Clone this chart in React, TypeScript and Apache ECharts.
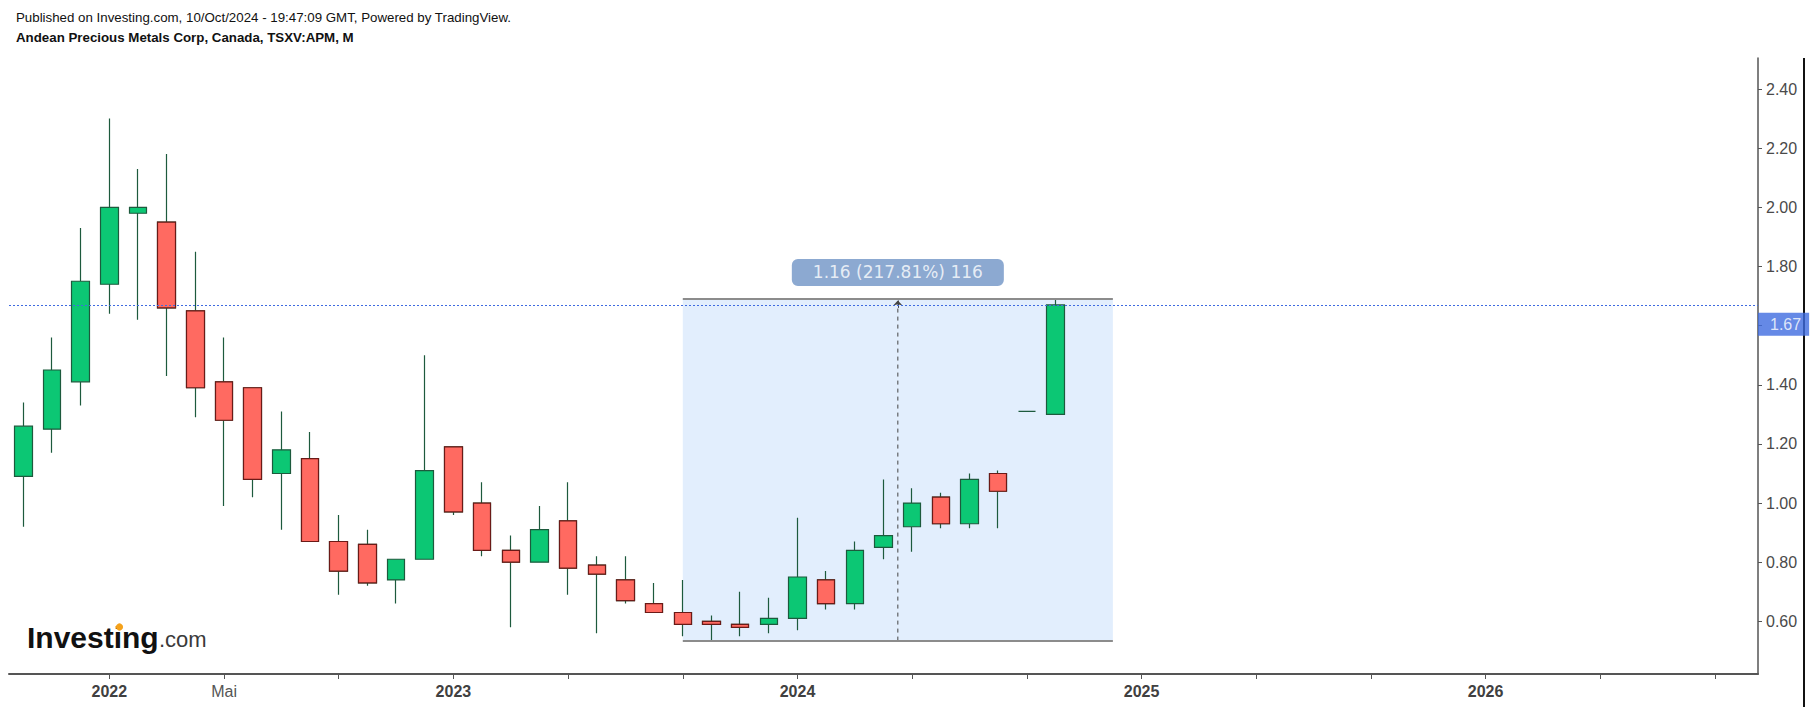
import React, { useEffect, useRef } from "react";
import * as echarts from "echarts";

// ---- data ----
const months: string[] = [];
for (let y = 2021; y <= 2026; y++) {
  for (let m = 1; m <= 12; m++) {
    if ((y === 2021 && m < 10) || (y === 2026 && m > 10)) continue;
    months.push(`${y}-${String(m).padStart(2, "0")}`);
  }
}

const openP = [1.09, 1.25, 1.41, 1.74, 1.98, 1.95, 1.65, 1.41, 1.39, 1.10, 1.15, 0.87, 0.86, 0.74, 0.81, 1.19, 1.00, 0.84, 0.80, 0.94, 0.79, 0.74, 0.66, 0.63, 0.60, 0.59, 0.59, 0.61, 0.74, 0.66, 0.85, 0.92, 1.02, 0.93, 1.10, 1.31, 1.30];
const closeP = [1.26, 1.45, 1.75, 2.00, 2.00, 1.66, 1.39, 1.28, 1.08, 1.18, 0.87, 0.77, 0.73, 0.81, 1.11, 0.97, 0.84, 0.80, 0.91, 0.78, 0.76, 0.67, 0.63, 0.59, 0.59, 0.58, 0.61, 0.75, 0.66, 0.84, 0.89, 1.00, 0.93, 1.08, 1.04, 1.31, 1.67];
const lowP = [0.92, 1.17, 1.33, 1.64, 1.62, 1.43, 1.29, 0.99, 1.02, 0.91, 0.87, 0.69, 0.72, 0.66, 0.81, 0.96, 0.82, 0.58, 0.80, 0.69, 0.56, 0.66, 0.63, 0.55, 0.535, 0.55, 0.56, 0.57, 0.64, 0.64, 0.81, 0.835, 0.915, 0.915, 0.915, 1.31, 1.30];
const highP = [1.34, 1.56, 1.93, 2.30, 2.13, 2.18, 1.85, 1.56, 1.39, 1.31, 1.24, 0.96, 0.91, 0.81, 1.50, 1.19, 1.07, 0.89, 0.99, 1.07, 0.82, 0.82, 0.73, 0.74, 0.62, 0.70, 0.68, 0.95, 0.77, 0.87, 1.08, 1.05, 1.035, 1.10, 1.11, 1.31, 1.69];

const yTickValues = [0.6, 0.8, 1.0, 1.2, 1.4, 1.6, 1.8, 2.0, 2.2, 2.4];
const yLabelValues = [0.6, 0.8, 1.0, 1.2, 1.4, 1.8, 2.0, 2.2, 2.4];
const lastPrice = 1.67;
const lastPriceText = "1.67";

const measureStart = "2023-09";
const measureEnd = "2024-12";
const measureHigh = 1.69;
const measureLow = 0.535;
const measureText = "1.16 (217.81%) 116";

const headerLine1 = "Published on Investing.com, 10/Oct/2024 - 19:47:09 GMT, Powered by TradingView.";
const headerLine2 = "Andean Precious Metals Corp, Canada, TSXV:APM, M";

const FONT = '"Liberation Sans", Arial, sans-serif';

export default function App() {
  const ref = useRef<HTMLDivElement>(null);

  useEffect(() => {
    if (!ref.current) return;
    const chart = echarts.init(ref.current, undefined, { renderer: "svg" });

    const allCandles = months.map((m, i) =>
      i < openP.length ? [openP[i], closeP[i], lowP[i], highP[i]] : "-"
    );
    const downBodies = months.map((m, i) =>
      i < openP.length && closeP[i] < openP[i]
        ? [openP[i], closeP[i], closeP[i], openP[i]]
        : "-"
    );

    const sIdx = months.indexOf(measureStart);
    const eIdx = months.indexOf(measureEnd);
    const mid = (sIdx + eIdx) / 2;
    const lastIdx = months.length - 1;

    const tickFn = (i: number) => months[i].endsWith("-01") || months[i].endsWith("-05") || months[i].endsWith("-09");

    const option: any = {
      animation: false,
      backgroundColor: "#ffffff",
      grid: { left: 9, right: 55, top: 58, bottom: 33, containLabel: false },
      xAxis: [
        {
          type: "category",
          data: months,
          boundaryGap: true,
          axisLine: { show: true, onZero: false, lineStyle: { color: "#555555", width: 2 } },
          axisTick: {
            show: true,
            alignWithLabel: true,
            interval: (i: number) => tickFn(i),
            length: 5,
            lineStyle: { color: "#555555", width: 1 },
          },
          axisLabel: {
            interval: (i: number) => tickFn(i),
            margin: 9,
            fontFamily: FONT,
            fontSize: 16,
            color: "#555555",
            formatter: (v: string) => {
              if (v.endsWith("-01")) return `{y|${v.slice(0, 4)}}`;
              if (v === "2022-05") return "{m|Mai}";
              return "";
            },
            rich: {
              y: { fontFamily: FONT, fontSize: 16, fontWeight: "bold", color: "#404040" },
              m: { fontFamily: FONT, fontSize: 16, color: "#555555" },
            },
          },
          splitLine: { show: false },
        },
        {
          type: "value",
          min: -0.5,
          max: lastIdx + 0.5,
          show: false,
          axisLine: { show: false, onZero: false },
          splitLine: { show: false },
        },
      ],
      yAxis: {
        type: "value",
        position: "right",
        min: 0.422,
        max: 2.505,
        scale: true,
        axisLine: { show: true, onZero: false, lineStyle: { color: "#555555", width: 1.5 } },
        axisTick: {
          show: true,
          length: 4,
          customValues: yTickValues,
          lineStyle: { color: "#555555" },
        },
        axisLabel: {
          customValues: yLabelValues,
          formatter: (v: number) => v.toFixed(2),
          color: "#4a4a4a",
          fontFamily: FONT,
          fontSize: 16,
          margin: 8,
        },
        splitLine: { show: false },
      },
      graphic: [
        {
          type: "text",
          x: 16,
          y: 17,
          style: { text: headerLine1, font: `13.3px ${FONT}`, fill: "#111111", textVerticalAlign: "middle" },
        },
        {
          type: "text",
          x: 16,
          y: 37,
          style: { text: headerLine2, font: `bold 13.3px ${FONT}`, fill: "#111111", textVerticalAlign: "middle" },
        },
        {
          type: "text",
          x: 27,
          y: 637,
          z: 50,
          style: { text: "Investing", font: `bold 30px ${FONT}`, fill: "#111111", textVerticalAlign: "middle" },
        },
        {
          type: "text",
          x: 159,
          y: 639,
          z: 50,
          style: { text: ".com", font: `22px ${FONT}`, fill: "#3a3a3a", textVerticalAlign: "middle" },
        },
        {
          type: "circle",
          z: 51,
          shape: { cx: 119.5, cy: 627, r: 3.6 },
          style: { fill: "#f5a21b" },
        },
        {
          type: "line",
          shape: { x1: 1804, y1: 58, x2: 1804, y2: 707 },
          style: { stroke: "#111111", lineWidth: 2 },
        },
      ],
      series: [
        {
          type: "line",
          xAxisIndex: 1,
          yAxisIndex: 0,
          z: 2,
          silent: true,
          symbol: "none",
          data: [
            [mid, measureLow],
            [mid, measureHigh - 0.01],
          ],
          lineStyle: { color: "#444444", width: 1, type: [4, 4] },
          markArea: {
            silent: true,
            itemStyle: { color: "#e2eefd" },
            data: [[{ coord: [sIdx, measureHigh] }, { coord: [eIdx, measureLow] }]],
          },
          markLine: {
            silent: true,
            symbol: "none",
            label: { show: false },
            lineStyle: { color: "#8c8c8c", width: 2, type: "solid" },
            data: [
              [{ coord: [sIdx, measureHigh] }, { coord: [eIdx, measureHigh] }],
              [{ coord: [sIdx, measureLow] }, { coord: [eIdx, measureLow] }],
              [
                { coord: [mid, measureHigh - 0.03], symbol: "none", lineStyle: { color: "#444444", width: 1 } },
                { coord: [mid, measureHigh - 0.005], symbol: "arrow", symbolSize: [7, 5], lineStyle: { color: "#444444", width: 1 } },
              ],
            ],
          },
        },
        {
          type: "candlestick",
          name: "APM",
          z: 3,
          barWidth: 18,
          data: allCandles,
          itemStyle: {
            color: "#0cc774",
            color0: "#ff6a61",
            borderColor: "#1d5a3d",
            borderColor0: "#1d5a3d",
            borderWidth: 1.2,
          },
          markLine: {
            silent: true,
            symbol: "none",
            label: { show: false },
            lineStyle: { color: "#3f6be0", width: 1, type: [2, 2] },
            data: [{ yAxis: lastPrice }],
          },
        },
        {
          type: "candlestick",
          name: "APM-down",
          z: 4,
          barWidth: 18,
          data: downBodies,
          itemStyle: {
            color: "#ff6a61",
            color0: "#ff6a61",
            borderColor: "#6b1a17",
            borderColor0: "#6b1a17",
            borderWidth: 1.2,
          },
        },
        {
          type: "scatter",
          xAxisIndex: 1,
          yAxisIndex: 0,
          z: 20,
          silent: true,
          clip: false,
          symbolSize: 0,
          data: [
            {
              value: [mid, 1.78],
              label: {
                show: true,
                position: "inside",
                formatter: measureText,
                fontFamily: '"DejaVu Sans", Verdana, sans-serif',
                fontSize: 17,
                color: "#ffffff",
                backgroundColor: "#6f93c6",
                borderRadius: 6,
                padding: [5, 21, 5, 21],
              },
            },
            {
              value: [lastIdx + 0.5, 1.605],
              label: {
                show: true,
                position: "right",
                distance: 0,
                formatter: lastPriceText,
                fontFamily: FONT,
                fontSize: 16,
                color: "#ffffff",
                backgroundColor: "#3f6be0",
                padding: [4, 8, 3, 12],
              },
            },
          ],
        },
      ],
    };

    chart.setOption(option);
    return () => chart.dispose();
  }, []);

  return (
    <div
      ref={ref}
      style={{ position: "absolute", left: 0, top: 0, width: 1813, height: 707, background: "#fff" }}
    />
  );
}
